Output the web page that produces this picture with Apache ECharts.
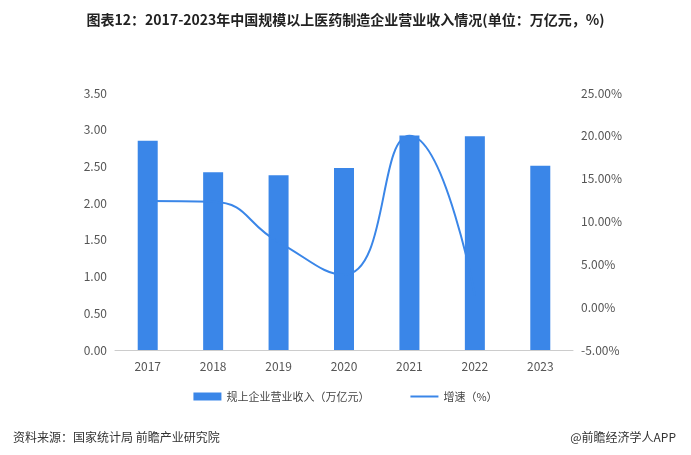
<!DOCTYPE html>
<html>
<head>
<meta charset="utf-8">
<script src="https://cdn.jsdelivr.net/npm/echarts@6/dist/echarts.min.js"></script>
<style>html,body{margin:0;padding:0;background:#fff}#main{width:691px;height:455px}</style>
</head>
<body>
<div id="main"></div>
<script>
var years = ['2017', '2018', '2019', '2020', '2021', '2022', '2023'];
var revenue = [2.85, 2.42, 2.38, 2.48, 2.92, 2.91, 2.51];
var growth = [12.4, 12.3, 7.6, 3.8, 20.0, 1.4, null];

var chart = echarts.init(document.getElementById('main'));
var font = '"Noto Sans CJK SC", sans-serif';
chart.setOption({
	textStyle : { fontFamily : font },
	title : [ {
		text : '图表12：2017-2023年中国规模以上医药制造企业营业收入情况(单位：万亿元，%)',
		left : 'center', top : 8,
		textStyle : { fontSize : 14, fontWeight : 'bold', color : '#222', fontFamily : font }
	}, {
		text : '资料来源：国家统计局 前瞻产业研究院',
		left : 8, top : 426,
		textStyle : { fontSize : 12, fontWeight : 'normal', color : '#333', fontFamily : font }
	}, {
		text : '@前瞻经济学人APP',
		right : 10, top : 426,
		textStyle : { fontSize : 12, fontWeight : 'normal', color : '#333', fontFamily : font }
	} ],
	legend : {
		bottom : 48, itemGap : 40,
		textStyle : { fontSize : 11, color : '#444' },
		data : [
			{ name : '规上企业营业收入（万亿元）', icon : 'rect' },
			{ name : '增速（%）', itemStyle : { opacity : 0 } }
		],
		itemWidth : 28, itemHeight : 8
	},
	grid : { left : 115, right : 118, top : 93, bottom : 105 },
	xAxis : {
		type : 'category', data : years,
		axisLine : { lineStyle : { color : '#ccc' } },
		axisTick : { show : false },
		axisLabel : { color : '#555', fontSize : 12, margin : 10 }
	},
	yAxis : [ {
		type : 'value', min : 0, max : 3.5, interval : 0.5,
		splitLine : { show : false },
		axisLabel : { color : '#555', fontSize : 12, formatter : function(v) { return v.toFixed(2); } }
	}, {
		type : 'value', min : -5, max : 25, interval : 5,
		splitLine : { show : false },
		axisLabel : { color : '#555', fontSize : 12, formatter : function(v) { return v.toFixed(2) + '%'; } }
	} ],
	series : [ {
		name : '规上企业营业收入（万亿元）', type : 'bar', data : revenue,
		barWidth : 20, itemStyle : { color : '#3a86e8' }
	}, {
		name : '增速（%）', type : 'line', yAxisIndex : 1, data : growth,
		smooth : true, symbol : 'none',
		lineStyle : { color : '#3a86e8', width : 2 }, itemStyle : { color : '#3a86e8' }
	} ]
});
</script>
</body>
</html>
